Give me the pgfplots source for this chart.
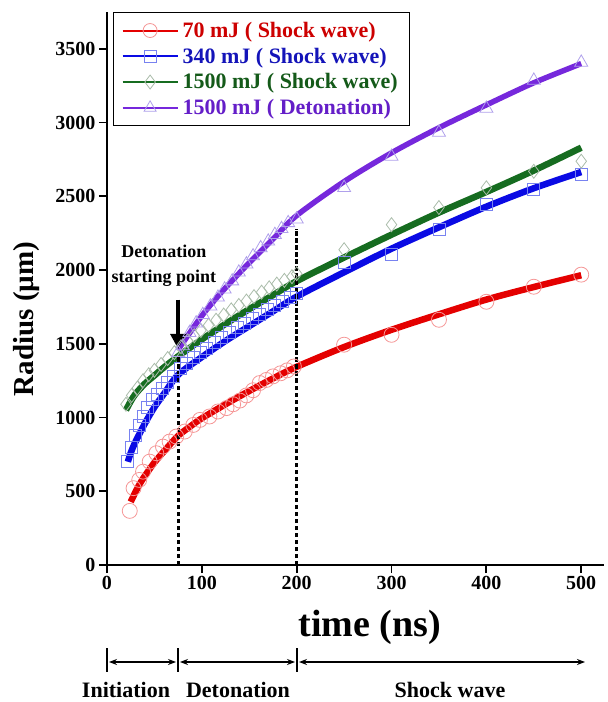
\documentclass[border=0pt]{standalone}
\usepackage{fontspec}
\setmainfont{Liberation Serif}
\usepackage{pgfplots}
\pgfplotsset{compat=1.18}
\usetikzlibrary{arrows.meta}
\definecolor{redline}{RGB}{228,0,0}
\definecolor{blueline}{RGB}{10,10,228}
\definecolor{greenline}{RGB}{22,108,32}
\definecolor{purpleline}{RGB}{118,40,220}
\definecolor{redmark}{RGB}{245,150,150}
\definecolor{bluemark}{RGB}{120,130,240}
\definecolor{greenmark}{RGB}{170,188,170}
\definecolor{purplemark}{RGB}{175,160,235}
\definecolor{redtxt}{RGB}{205,0,0}
\definecolor{bluetxt}{RGB}{20,20,185}
\definecolor{greentxt}{RGB}{20,90,25}
\definecolor{purpletxt}{RGB}{100,30,200}
\begin{document}
\begin{tikzpicture}
\path[use as bounding box] (-107pt,-137pt) rectangle (501pt,565pt);
\begin{axis}[
  at={(0pt,0pt)}, anchor=south west,
  scale only axis, width=497pt, height=553pt,
  xmin=0, xmax=524, ymin=0, ymax=3750,
  axis x line=bottom, axis y line=left,
  axis line style={-, line width=1.8pt, black},
  tick align=outside, major tick length=8pt,
  tick style={line width=1.8pt, black},
  xtick={0,100,...,500}, ytick={0,500,...,3500},
  /pgf/number format/assume math mode=true,
  /pgf/number format/1000 sep={},
  ticklabel style={font=\bfseries\fontsize{20}{24}\selectfont},
  xlabel={time (ns)},
  xlabel style={at={(axis description cs:0.529,-0.112)}, anchor=center, font=\bfseries\fontsize{38}{42}\selectfont},
  ylabel={Radius (\textmu m)},
  ylabel style={at={(axis description cs:-0.161,0.445)}, anchor=center, font=\bfseries\fontsize{29}{32}\selectfont},
  clip=false,
  legend style={at={(axis description cs:0.012,1)}, anchor=north west,
    draw=black, line width=1.3pt, inner xsep=8pt, inner ysep=8pt,
    font=\bfseries\fontsize{22}{25}\selectfont, row sep=6pt,
    nodes={inner ysep=1.5pt, inner xsep=4pt}},
  legend cell align=left,
  legend image code/.code={\draw[mark repeat=2,mark phase=2,#1] plot coordinates {(0pt,0pt) (27.5pt,0pt) (55pt,0pt)};},
]
% fitted lines
\addplot[redline, line width=6.5pt, smooth, forget plot] coordinates {
(25,428) (30,495) (35,555) (40,605) (50,695) (60,770) (75,876) (90,950) (100,995) (125,1090) (150,1180) (175,1265) (200,1344) (250,1478) (300,1595) (350,1700) (400,1800) (450,1885) (500,1965)};
\addplot[blueline, line width=6.5pt, smooth, forget plot] coordinates {
(22,700) (25,760) (30,835) (40,960) (50,1070) (60,1160) (75,1290) (100,1410) (125,1520) (150,1620) (175,1720) (200,1820) (250,1985) (300,2145) (350,2290) (400,2430) (450,2555) (500,2665)};
\addplot[greenline, line width=6.5pt, smooth, forget plot] coordinates {
(20,1050) (25,1110) (30,1160) (40,1230) (50,1285) (60,1340) (75,1415) (100,1530) (125,1635) (150,1735) (175,1830) (200,1925) (250,2085) (300,2240) (350,2390) (400,2530) (450,2675) (500,2830)};
\addplot[purpleline, line width=5.5pt, smooth, forget plot] coordinates {
(75,1460) (90,1600) (100,1690) (110,1770) (125,1880) (150,2050) (175,2210) (200,2370) (250,2600) (300,2795) (350,2965) (400,3120) (450,3270) (500,3400)};
% measured points
\addplot[only marks, mark=o, mark size=7.5pt, mark options={draw=redmark, line width=0.8pt}, forget plot] coordinates {
(24,367) (28,521) (34,577) (38,633) (45,701) (52,758) (59,803) (66,837) (73,871) (82,905) (91,950) (98,984) (108,1007) (117,1041) (126,1064) (133,1090) (140,1115) (147,1150) (154,1185) (161,1234) (168,1255) (175,1279) (183,1300) (190,1320) (197,1346)
(250,1494) (300,1561) (350,1663) (400,1785) (450,1887) (500,1969)};
\addplot[only marks, mark=square, mark size=6pt, mark options={draw=bluemark, line width=0.8pt}, forget plot] coordinates {
(22,700) (26,800) (30,880) (34,950) (38,1010) (43,1070) (48,1120) (53,1160) (58,1200) (64,1240) (70,1280) (77,1330) (84,1370) (91,1405) (98,1440) (105,1470) (113,1510) (121,1545) (129,1580) (137,1610) (145,1640) (153,1670) (161,1700) (169,1730) (177,1760) (185,1790) (193,1815) (200,1840)
(250,2050) (300,2105) (350,2274) (400,2444) (450,2546) (500,2648)};
\addplot[only marks, mark=diamond, mark size=7pt, mark options={draw=greenmark, line width=0.8pt}, forget plot] coordinates {
(20,1090) (26,1150) (32,1200) (38,1250) (44,1290) (50,1320) (57,1360) (64,1400) (71,1440) (78,1480) (85,1520) (92,1555) (99,1590) (107,1625) (115,1660) (123,1695) (131,1730) (139,1760) (147,1790) (155,1820) (163,1850) (171,1880) (179,1905) (187,1930) (195,1955) (200,1975)
(250,2138) (300,2308) (350,2424) (400,2558) (450,2670) (500,2738)};
\addplot[only marks, mark=triangle, mark size=7.5pt, mark options={draw=purplemark, fill=white, line width=0.8pt}, forget plot] coordinates {
(75,1440) (80,1485) (87,1575) (94,1640) (101,1697) (109,1755) (117,1815) (124,1870) (132,1925) (139,1985) (147,2040) (154,2095) (162,2150) (170,2195) (177,2240) (184,2280) (191,2320) (200,2345)
(250,2558) (300,2770) (350,2933) (400,3096) (450,3286) (500,3408)};
% legend
\addlegendimage{redline, line width=2pt, mark=o, mark size=7pt, mark options={draw=redmark, line width=0.8pt}}
\addlegendentry{\textcolor{redtxt}{70 mJ ( Shock wave)}}
\addlegendimage{blueline, line width=2pt, mark=square, mark size=6pt, mark options={draw=bluemark, line width=0.8pt}}
\addlegendentry{\textcolor{bluetxt}{340 mJ ( Shock wave)}}
\addlegendimage{greenline, line width=2pt, mark=diamond, mark size=7pt, mark options={draw=greenmark, line width=0.8pt}}
\addlegendentry{\textcolor{greentxt}{1500 mJ ( Shock wave)}}
\addlegendimage{purpleline, line width=2pt, mark=triangle, mark size=7pt, mark options={draw=purplemark, fill=white, line width=0.8pt}}
\addlegendentry{\textcolor{purpletxt}{1500 mJ ( Detonation)}}
% annotations
\draw[black, line width=3.2pt, dash pattern=on 4.5pt off 2.5pt] (axis cs:75,0) -- (axis cs:75,1420);
\draw[black, line width=3.2pt, dash pattern=on 4.5pt off 2.5pt] (axis cs:200,0) -- (axis cs:200,2280);
\draw[black, line width=4.5pt, -{Triangle[width=15pt,length=15pt]}] (axis cs:75,1800) -- (axis cs:75,1465);
\node[align=center, font=\bfseries\fontsize{18}{25}\selectfont] at (axis cs:60,2030) {Detonation\\starting point};
\end{axis}
% phase arrows below the axis
\draw[line width=2pt] (0pt,-83pt) -- (0pt,-107pt);
\draw[line width=2pt] (71pt,-83pt) -- (71pt,-107pt);
\draw[line width=2pt] (190pt,-83pt) -- (190pt,-107pt);
\draw[line width=1.5pt, {Stealth[length=8pt,width=6pt]}-{Stealth[length=8pt,width=6pt]}] (2pt,-97pt) -- (69pt,-97pt);
\draw[line width=1.5pt, {Stealth[length=8pt,width=6pt]}-{Stealth[length=8pt,width=6pt]}] (73pt,-97pt) -- (188pt,-97pt);
\draw[line width=1.5pt, {Stealth[length=8pt,width=6pt]}-{Stealth[length=8pt,width=6pt]}] (192pt,-97pt) -- (478pt,-97pt);
\node[font=\bfseries\fontsize{22}{26}\selectfont] at (19pt,-125pt) {Initiation};
\node[font=\bfseries\fontsize{22}{26}\selectfont] at (131pt,-125pt) {Detonation};
\node[font=\bfseries\fontsize{22}{26}\selectfont] at (343pt,-125pt) {Shock wave};
\end{tikzpicture}
\end{document}
